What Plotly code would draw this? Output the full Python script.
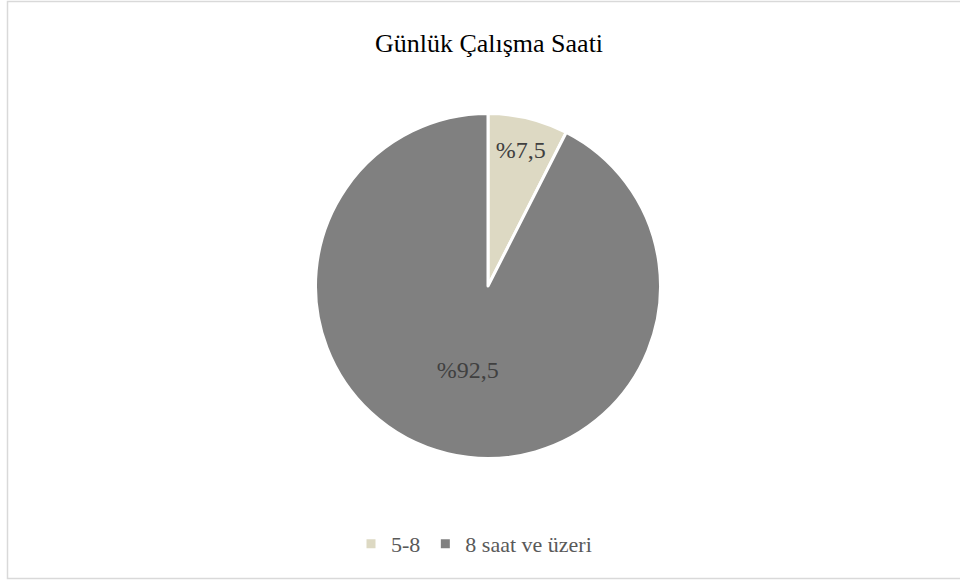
import plotly.graph_objects as go

# Daily working hours distribution (percent)
categories = ["5-8", "8 saat ve üzeri"]
shares = [7.5, 92.5]
slice_colors = ["#DDD9C3", "#808080"]
title_text = "Günlük Çalışma Saati"

labels_text = ["%" + f"{v:.1f}".replace(".", ",") for v in shares]

W, H = 960, 581
cx, cy, r = 488, 286, 172.5

fig = go.Figure(
    go.Pie(
        labels=categories,
        values=shares,
        text=labels_text,
        textinfo="text",
        textposition="inside",
        insidetextorientation="horizontal",
        sort=False,
        direction="clockwise",
        rotation=0,
        marker=dict(colors=slice_colors, line=dict(color="white", width=3)),
        textfont=dict(family="Liberation Serif", size=24, color="#404040"),
        domain=dict(x=[(cx - r) / W, (cx + r) / W], y=[(H - cy - r) / H, (H - cy + r) / H]),
        hoverinfo="label+percent",
    )
)

fig.update_layout(
    width=W,
    height=H,
    margin=dict(l=0, r=0, t=0, b=0),
    paper_bgcolor="white",
    plot_bgcolor="white",
    font=dict(family="Liberation Serif", color="#595959"),
    title=dict(
        text=title_text,
        x=489 / W,
        xanchor="center",
        y=1 - 43 / H,
        yanchor="middle",
        font=dict(family="Liberation Serif", size=26, color="#000000"),
    ),
    showlegend=True,
    legend=dict(
        orientation="h",
        x=474 / W,
        xanchor="center",
        y=1 - 544 / H,
        yanchor="middle",
        font=dict(family="Liberation Serif", size=22, color="#595959"),
        itemwidth=30,
    ),
    shapes=[
        dict(
            type="rect",
            xref="paper",
            yref="paper",
            x0=7.5 / W,
            x1=1.01,
            y0=1 - 578.5 / H,
            y1=1 - 1.5 / H,
            line=dict(color="#D9D9D9", width=1.5),
            fillcolor="rgba(0,0,0,0)",
        )
    ],
)

fig.write_html("out.html")
